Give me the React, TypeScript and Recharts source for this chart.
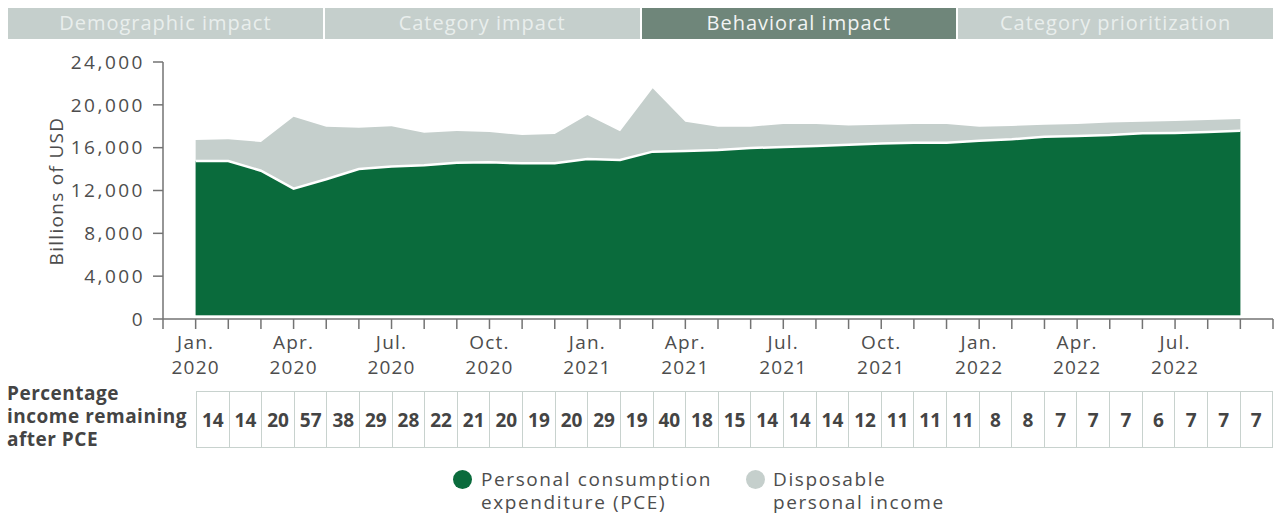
import { AreaChart, Area, XAxis, YAxis } from 'recharts';

const months = [
  'Jan. 2020', 'Feb. 2020', 'Mar. 2020', 'Apr. 2020', 'May 2020', 'Jun. 2020',
  'Jul. 2020', 'Aug. 2020', 'Sep. 2020', 'Oct. 2020', 'Nov. 2020', 'Dec. 2020',
  'Jan. 2021', 'Feb. 2021', 'Mar. 2021', 'Apr. 2021', 'May 2021', 'Jun. 2021',
  'Jul. 2021', 'Aug. 2021', 'Sep. 2021', 'Oct. 2021', 'Nov. 2021', 'Dec. 2021',
  'Jan. 2022', 'Feb. 2022', 'Mar. 2022', 'Apr. 2022', 'May 2022', 'Jun. 2022',
  'Jul. 2022', 'Aug. 2022', 'Sep. 2022',
];

// Personal consumption expenditure, billions of USD
const pce = [
  14760, 14760, 13850, 12170, 13050, 14010, 14230, 14350, 14600, 14630, 14540,
  14540, 14940, 14850, 15630, 15690, 15780, 15970, 16060, 16160, 16280, 16400,
  16470, 16470, 16650, 16780, 17030, 17090, 17180, 17340, 17370, 17460, 17590,
];

// Disposable personal income, billions of USD
const dpi = [
  16720, 16780, 16530, 18890, 17960, 17870, 18000, 17400, 17560, 17460, 17180,
  17280, 19050, 17530, 21550, 18430, 17960, 17960, 18210, 18210, 18060, 18150,
  18210, 18210, 17960, 18020, 18150, 18210, 18340, 18430, 18490, 18580, 18680,
];

const pctRemaining = [
  14, 14, 20, 57, 38, 29, 28, 22, 21, 20, 19, 20, 29, 19, 40, 18, 15, 14, 14,
  14, 12, 11, 11, 11, 8, 8, 7, 7, 7, 6, 7, 7, 7,
];

const yTicks = [0, 4000, 8000, 12000, 16000, 20000, 24000];
const tabs = ['Demographic impact', 'Category impact', 'Behavioral impact', 'Category prioritization'];
const activeTab = 2;

const GREEN = '#0a6b3c';
const GREY = '#c5cfcc';
const AXIS = '#737373';
const TEXT = '#4d4d4d';
const FONT = '"Open Sans", sans-serif';

const data = months.map((m, i) => ({ idx: i, month: m, pce: pce[i], dpi: dpi[i] }));
// one empty slot before and after the data, every month gets a tick
const xTicks = [-1, ...months.map((_, i) => i), months.length];

const MonthTick = ({ x, y, payload }: any) => {
  const i = payload.value;
  if (i < 0 || i >= months.length || i % 3 !== 0) return null;
  const [mon, yr] = months[i].split(' ');
  return (
    <text x={x} y={y + 20} textAnchor="middle" fill={TEXT} fontSize={19}
      fontFamily={FONT} letterSpacing={1.2}>
      <tspan x={x}>{mon}</tspan>
      <tspan x={x} dy={25}>{yr}</tspan>
    </text>
  );
};

export default function App() {
  return (
    <div style={{ position: 'absolute', left: 0, top: 0, width: 1283, height: 514, background: '#fff', fontFamily: FONT }}>
      {/* tabs */}
      <div style={{ position: 'absolute', left: 8, top: 8, width: 1265, height: 31, display: 'flex', gap: 2 }}>
        {tabs.map((t, i) => (
          <div key={t} style={{
            flex: 1, background: i === activeTab ? '#6f867a' : GREY,
            color: i === activeTab ? '#f2f4f3' : '#e9eeec',
            fontSize: 20, letterSpacing: 1, lineHeight: '29px', display: 'flex', alignItems: 'flex-start', justifyContent: 'center',
          }}>{t}</div>
        ))}
      </div>

      <AreaChart width={1283} height={514} data={data}
        margin={{ top: 62, right: 10, bottom: 135, left: 63 }}>
        <XAxis dataKey="idx" type="number" domain={[-1, months.length]} ticks={xTicks}
          interval={0} height={60} tick={<MonthTick />} tickSize={10} tickMargin={0}
          axisLine={{ stroke: AXIS, strokeWidth: 1.5 }} tickLine={{ stroke: AXIS, strokeWidth: 1.5 }} />
        <YAxis domain={[0, 24000]} ticks={yTicks} width={100} tickSize={10} tickMargin={8}
          tickFormatter={(v: number) => v.toLocaleString('en-US')}
          tick={{ fill: TEXT, fontSize: 19, fontFamily: FONT, letterSpacing: 2.5 }}
          axisLine={{ stroke: AXIS, strokeWidth: 1.5 }} tickLine={{ stroke: AXIS, strokeWidth: 1.5 }} />
        <Area dataKey="dpi" type="linear" fill={GREY} fillOpacity={1} stroke="none"
          baseValue={350} isAnimationActive={false} />
        <Area dataKey="pce" type="linear" fill={GREEN} fillOpacity={1} stroke="#ffffff"
          strokeWidth={2.5} baseValue={350} isAnimationActive={false} />
      </AreaChart>

      {/* y axis title */}
      <div style={{
        position: 'absolute', left: 56, top: 191, transform: 'translate(-50%, -50%) rotate(-90deg)',
        whiteSpace: 'nowrap', fontSize: 19, letterSpacing: 1.3, color: TEXT,
      }}>Billions of USD</div>

      {/* table label */}
      <div style={{
        position: 'absolute', left: 7, top: 382, fontSize: 19, lineHeight: '23px', fontWeight: 700,
        letterSpacing: 0.5, color: '#444',
      }}>Percentage<br />income remaining<br />after PCE</div>

      {/* table */}
      <div style={{
        position: 'absolute', left: 196, top: 391, width: 1077, height: 57, display: 'flex',
        boxSizing: 'border-box', border: '1.5px solid #c8d2ce',
      }}>
        {pctRemaining.map((p, i) => (
          <div key={i} style={{
            flex: 1, display: 'flex', alignItems: 'center', justifyContent: 'center',
            borderLeft: i === 0 ? 'none' : '1.5px solid #c8d2ce',
            fontSize: 19, fontWeight: 700, color: '#444',
          }}>{p}</div>
        ))}
      </div>

      {/* legend */}
      <div style={{ position: 'absolute', left: 453, top: 468, display: 'flex', fontSize: 19, lineHeight: '23px', color: TEXT, letterSpacing: 1.6 }}>
        <div style={{ display: 'flex', width: 293 }}>
          <div style={{ width: 19, height: 19, borderRadius: '50%', background: GREEN, marginTop: 2, marginRight: 9 }} />
          <div>Personal consumption<br />expenditure (PCE)</div>
        </div>
        <div style={{ display: 'flex' }}>
          <div style={{ width: 19, height: 19, borderRadius: '50%', background: GREY, marginTop: 2, marginRight: 8 }} />
          <div>Disposable<br />personal income</div>
        </div>
      </div>
    </div>
  );
}
